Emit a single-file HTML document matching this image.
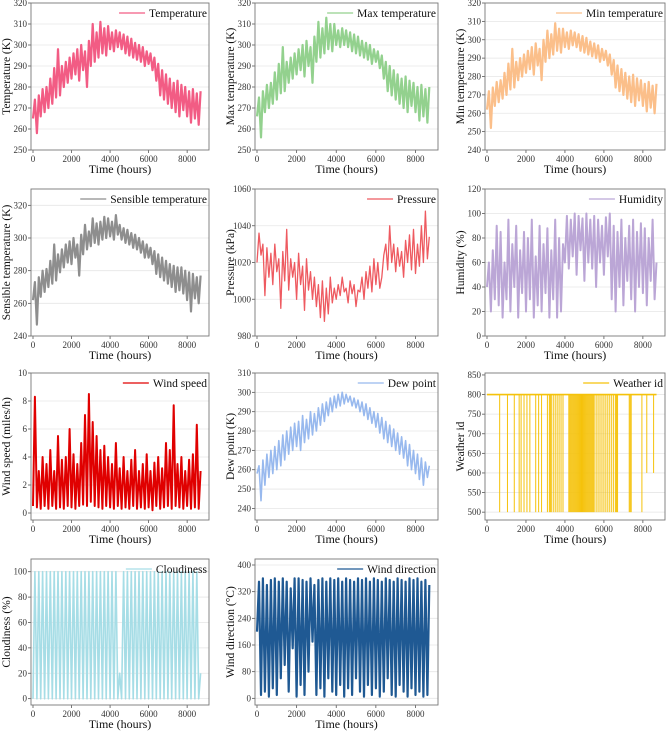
<!DOCTYPE html>
<html><head><meta charset="utf-8"><style>
html,body{margin:0;padding:0;background:#fff;}
svg{display:block;font-family:"Liberation Serif",serif;}
</style></head><body>
<svg id="fig" width="669" height="731" viewBox="0 0 669 731"></svg>
<script>
const hoursStep = 100;
const temperatureValues = [265,274,258,276,266,279,268,280,270,284,272,289,275,298,276,290,280,292,282,294,284,296,286,298,283,300,288,297,280,302,290,310,292,306,294,311,296,308,295,309,298,306,297,307,299,306,298,305,296,304,295,303,294,301,293,300,292,299,290,297,291,296,288,294,283,291,276,288,274,286,272,284,270,282,268,283,266,281,269,280,266,278,263,279,265,277,262,278];
const maxTempValues = [266,275,256,278,268,281,270,282,272,287,274,291,277,299,278,292,282,294,284,296,286,298,288,300,285,302,290,299,282,304,292,311,294,308,296,313,298,310,297,310,300,307,299,308,300,307,299,306,297,305,296,304,295,302,294,301,293,300,291,298,292,297,289,295,284,292,278,290,276,288,274,286,272,284,270,285,268,283,271,282,268,280,264,281,266,279,263,280];
const minTempValues = [262,272,252,274,264,277,266,278,268,282,270,287,273,295,274,288,278,290,280,292,282,294,284,296,281,298,286,295,278,300,288,305,290,303,292,309,294,306,293,306,296,304,295,305,297,304,296,303,294,302,293,301,292,299,291,298,290,297,288,295,289,294,286,292,281,289,274,286,272,284,270,282,268,280,266,281,264,279,267,278,264,276,261,277,263,275,260,276];
const sensibleValues = [262,273,247,276,264,280,267,281,270,286,272,296,274,290,279,293,282,296,285,298,284,300,288,296,277,302,290,308,293,304,295,312,297,309,296,310,299,313,300,312,301,310,299,314,302,308,299,306,297,305,296,303,294,302,293,300,291,298,288,296,288,294,284,292,278,290,276,288,274,286,272,284,270,283,267,282,268,282,266,280,262,279,255,278,263,276,260,277];
const pressureValues = [1020,1036,1024,1030,1002,1028,1012,1025,1008,1030,1015,1022,995,1026,1010,1038,1005,1022,1012,1020,1000,1025,1008,1018,994,1022,1005,1015,1000,1012,996,1008,990,1010,988,1006,992,1012,998,1006,1000,1008,1002,1012,1004,1006,998,1010,1003,1008,996,1005,1004,1012,1000,1015,1006,1018,1004,1022,1008,1020,1006,1012,1024,1030,1016,1040,1020,1030,1015,1028,1018,1026,1012,1032,1020,1035,1016,1038,1014,1030,1018,1040,1020,1048,1022,1034];
const humidityValues = [40,60,20,70,30,90,25,85,15,60,30,95,20,75,40,90,15,70,35,85,20,80,30,95,15,65,25,90,20,75,35,88,15,70,30,95,15,80,20,75,60,98,55,95,65,100,50,98,70,96,45,100,60,95,55,98,40,95,60,90,50,97,65,100,30,90,20,85,40,95,25,80,45,90,30,95,20,85,40,92,35,88,25,80,45,95,30,60];
const windSpeedValues = [0.5,8.3,0.4,3,0.3,4,0.5,3.5,0.3,4.5,0.5,3,0.3,5.5,0.4,3.8,0.3,4,0.5,6,0.4,4.2,0.3,3.5,0.5,5,0.6,7,0.5,8.5,0.8,6.5,0.5,5.5,0.4,4.5,0.3,4.8,0.5,4,0.4,3.5,0.3,5,0.5,3.2,0.3,4,0.4,3,0.3,3.8,0.5,4.5,0.3,3,0.4,3.5,0.3,4.2,0.4,3,0.2,3.6,0.5,4,0.3,3.2,0.4,5,0.5,4.5,0.3,7.7,0.5,3.5,0.4,4,0.3,3,0.5,3.8,0.3,4.2,0.4,6.3,0.3,3];
const dewPointValues = [258,262,244,265,252,268,256,270,258,272,260,275,262,278,265,280,268,282,270,284,272,285,270,288,274,286,276,290,278,289,280,292,283,294,285,295,288,297,290,298,292,299,293,300,294,299,295,298,293,297,292,296,290,295,288,294,286,292,284,290,282,289,279,287,276,285,274,283,272,281,270,279,268,277,266,275,262,273,260,270,258,268,255,266,252,264,256,262];
const weatherDropHours = [650,1050,1400,1650,1750,1900,2050,2200,2500,2650,2800,3100,3200,3250,3300,3400,3500,3600,3700,3800,3900,4200,4250,4300,4350,4400,4450,4500,4550,4600,4650,4700,4750,4800,4850,4900,4950,5000,5050,5100,5150,5200,5250,5300,5350,5400,5450,5500,5600,5700,5800,5900,6000,6100,6200,6300,6400,6500,6600,6650,6700,7300,7350,7400,7950,8200,8550];
const weatherDropValues = [500,500,500,500,500,500,500,500,500,500,500,500,500,500,500,500,500,500,500,500,500,500,500,500,500,500,500,500,500,500,500,500,500,500,500,500,500,500,500,500,500,500,500,500,500,500,500,500,500,500,500,500,500,500,500,500,500,500,500,500,500,500,500,500,500,600,600];
const cloudValues = [0,100,0,100,0,100,0,100,0,100,0,100,0,100,0,100,0,100,0,100,0,100,0,100,0,100,0,100,0,100,0,100,0,100,0,100,0,100,0,100,0,100,0,100,0,20,0,100,0,100,0,100,0,100,0,100,0,100,0,100,0,100,0,100,0,100,0,100,0,100,0,100,0,100,0,100,0,100,0,100,0,100,0,100,0,100,0,20];
const windDirValues = [200,350,10,360,20,340,5,355,30,360,10,350,60,360,100,350,20,330,150,360,5,360,40,355,10,350,80,360,170,340,10,355,30,360,5,350,60,360,20,355,10,360,40,350,5,360,30,355,10,350,60,360,20,355,5,360,40,350,10,360,30,355,5,350,20,360,60,355,10,350,5,360,40,355,20,350,5,360,30,355,10,360,20,350,5,355,10,340];

const svg = document.getElementById('fig');
const NS = 'http://www.w3.org/2000/svg';
function mk(tag, attrs, parent){const e=document.createElementNS(NS,tag);for(const k in attrs)e.setAttribute(k,attrs[k]);(parent||svg).appendChild(e);return e;}

const colX=[[31,209],[255,438],[485,665]];
const rowY=[[3,150],[189,336],[373,520],[559,705]];
const xTicks=[0,2000,4000,6000,8000];

const panels=[
 {name:'temperature',title:'Temperature',ylab:'Temperature (K)',col:0,row:0,ymin:250,ymax:320,ticks:[250,260,270,280,290,300,310,320],color:'#f25c84',sw:2.2,data:temperatureValues},
 {name:'max-temperature',title:'Max temperature',ylab:'Max temperature (K)',col:1,row:0,ymin:250,ymax:320,ticks:[250,260,270,280,290,300,310,320],color:'#93d18e',sw:2.2,data:maxTempValues},
 {name:'min-temperature',title:'Min temperature',ylab:'Min temperature (K)',col:2,row:0,ymin:240,ymax:320,ticks:[240,250,260,270,280,290,300,310,320],color:'#fbbf8a',sw:2.2,data:minTempValues},
 {name:'sensible-temperature',title:'Sensible temperature',ylab:'Sensible temperature (K)',col:0,row:1,ymin:240,ymax:330,ticks:[240,260,280,300,320],color:'#8e8e8e',sw:2.2,data:sensibleValues},
 {name:'pressure',title:'Pressure',ylab:'Pressure (kPa)',col:1,row:1,ymin:980,ymax:1060,ticks:[980,1000,1020,1040,1060],color:'#ee5a60',sw:1.3,data:pressureValues},
 {name:'humidity',title:'Humidity',ylab:'Humidity (%)',col:2,row:1,ymin:0,ymax:120,ticks:[0,20,40,60,80,100,120],color:'#bba6d6',sw:2,data:humidityValues},
 {name:'wind-speed',title:'Wind speed',ylab:'Wind speed (miles/h)',col:0,row:2,ymin:-0.5,ymax:10,ticks:[0,2,4,6,8,10],color:'#e00000',sw:2,data:windSpeedValues},
 {name:'dew-point',title:'Dew point',ylab:'Dew point (K)',col:1,row:2,ymin:234,ymax:310,ticks:[240,250,260,270,280,290,300,310],color:'#98b9ee',sw:1.6,data:dewPointValues},
 {name:'weather-id',title:'Weather id',ylab:'Weather id',col:2,row:2,ymin:480,ymax:855,ticks:[500,550,600,650,700,750,800,850],color:'#f5c20a',weather:true},
 {name:'cloudiness',title:'Cloudiness',ylab:'Cloudiness (%)',col:0,row:3,ymin:-5,ymax:110,ticks:[0,20,40,60,80,100],color:'#a6dde6',sw:1.6,data:cloudValues},
 {name:'wind-direction',title:'Wind direction',ylab:'Wind direction (°C)',col:1,row:3,ymin:-20,ymax:418,ticks:[0,80,160,240,320,400],color:'#1f5993',sw:2.2,data:windDirValues},
];

panels.forEach(p=>{
 const [x0,x1]=colX[p.col],[y0,y1]=rowY[p.row];
 const g=mk('g',{});
 
 
 const sx=h=>x0+2+(h/8000)*(x1-x0)*0.866;
 const sy=v=>y1-(v-p.ymin)/(p.ymax-p.ymin)*(y1-y0);
 p.ticks.forEach(t=>{
  const y=sy(t);
  if(Math.abs(y-y1)>2 && Math.abs(y-y0)>2){const gl=mk('line',{x1:x0,x2:x1,y1:y,y2:y,stroke:'#e6e6e6','stroke-width':0.8},g);}
  mk('line',{x1:x0-3,x2:x0,y1:y,y2:y,stroke:'#555','stroke-width':0.8},g);
  const tx=mk('text',{x:x0-4,y:y+3,'font-size':9,'text-anchor':'end',fill:'#333'},g);tx.textContent=t;
  
 });
 xTicks.forEach(t=>{
  const x=sx(t);
  mk('line',{x1:x,x2:x,y1:y1,y2:y1+3,stroke:'#555','stroke-width':0.8},g);
  const tx=mk('text',{x:x,y:y1+12,'font-size':9,'text-anchor':'middle',fill:'#333'},g);tx.textContent=t;
  
 });
 const clip='c'+p.name;
 const cp=mk('clipPath',{id:clip},g);mk('rect',{x:x0,y:y0,width:x1-x0,height:y1-y0},cp);
 if(p.weather){
  const base=mk('line',{x1:sx(0),x2:sx(8700),y1:sy(800),y2:sy(800),stroke:p.color,'stroke-width':1.6},g);
  
  weatherDropHours.forEach((h,i)=>{
   const l=mk('line',{x1:sx(h),x2:sx(h),y1:sy(800),y2:sy(weatherDropValues[i]),stroke:p.color,'stroke-width':1},g);
   
  });
 } else {
  const pts=p.data.map((v,i)=>sx(i*hoursStep).toFixed(1)+','+sy(v).toFixed(1)).join(' ');
  const pl=mk('polyline',{points:pts,fill:'none',stroke:p.color,'stroke-width':p.sw,'stroke-linejoin':'round','clip-path':'url(#'+clip+')'},g);
  
 }
 const fr=mk('rect',{x:x0,y:y0,width:x1-x0,height:y1-y0,fill:'none',stroke:'#777','stroke-width':0.9},g);
 
 const lg=mk('g',{},g);
 const lt=mk('text',{x:x1-2,y:y0+14,'font-size':11.5,'text-anchor':'end',fill:'#111'},lg);lt.textContent=p.title;
 const w=lt.getComputedTextLength();
 mk('line',{x1:x1-2-w-30,x2:x1-2-w-4,y1:y0+10,y2:y0+10,stroke:p.color,'stroke-width':1.2},lg);
 const xt=mk('text',{x:(x0+x1)/2,y:y1+23,'font-size':12,'text-anchor':'middle',fill:'#111'},g);xt.textContent='Time (hours)';
 
 const cy=(y0+y1)/2, cx=x0-21;
 const yt=mk('text',{x:cx,y:cy,'font-size':11.5,'text-anchor':'middle',fill:'#111',transform:`rotate(-90 ${cx} ${cy})`},g);yt.textContent=p.ylab;
 
});
</script>
</body></html>
